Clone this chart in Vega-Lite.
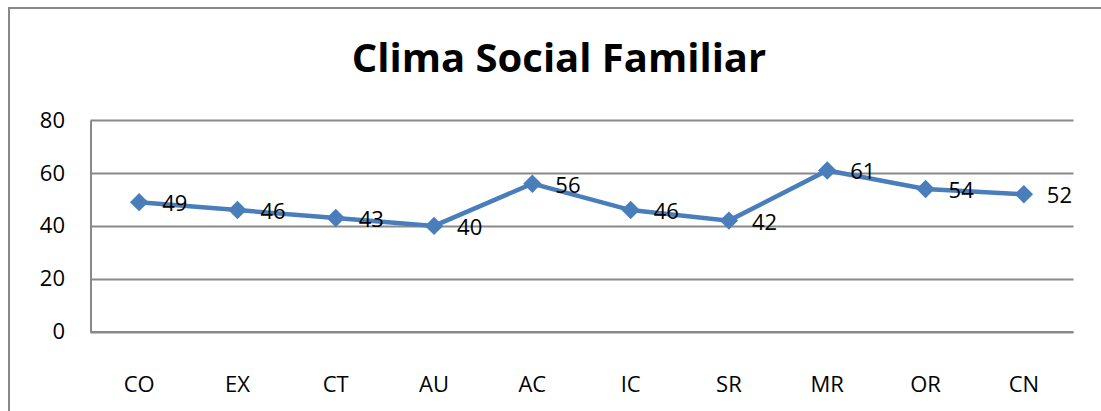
{
  "$schema": "https://vega.github.io/schema/vega-lite/v6.json",
  "autosize": {"type": "none"},
  "padding": {"left": 9, "top": 8, "right": 0, "bottom": 0},
  "width": 1100,
  "height": 410,
  "background": "white",
  "title": {
    "text": "Clima Social Familiar",
    "font": "Open Sans",
    "fontSize": 40,
    "fontWeight": "bold",
    "color": "#000000",
    "anchor": "middle",
    "frame": "group",
    "baseline": "alphabetic",
    "offset": -104
  },
  "data": {
    "values": [
      {"cat": "CO", "value": 49},
      {"cat": "EX", "value": 46},
      {"cat": "CT", "value": 43},
      {"cat": "AU", "value": 40},
      {"cat": "AC", "value": 56},
      {"cat": "IC", "value": 46},
      {"cat": "SR", "value": 42},
      {"cat": "MR", "value": 61},
      {"cat": "OR", "value": 54},
      {"cat": "CN", "value": 52}
    ]
  },
  "encoding": {
    "x": {
      "field": "cat",
      "type": "nominal",
      "sort": null,
      "scale": {"type": "band", "range": [81, 1064], "paddingInner": 0, "paddingOuter": 0},
      "axis": {
        "title": null,
        "orient": "bottom",
        "offset": -86.5,
        "grid": false,
        "ticks": false,
        "tickSize": 0,
        "labelAngle": 0,
        "labelFont": "Open Sans",
        "labelFontSize": 22,
        "labelColor": "#000000",
        "labelBaseline": "middle",
        "labelPadding": 53,
        "domainColor": "#898989",
        "domainWidth": 2
      }
    },
    "y": {
      "field": "value",
      "type": "quantitative",
      "scale": {"domain": [0, 80], "range": [323.5, 112.3], "nice": false, "zero": true},
      "axis": {
        "title": null,
        "orient": "left",
        "offset": -81.5,
        "values": [0, 20, 40, 60, 80],
        "grid": true,
        "gridColor": "#898989",
        "gridWidth": 2,
        "ticks": false,
        "tickSize": 0,
        "labelFont": "Open Sans",
        "labelFontSize": 22,
        "labelColor": "#000000",
        "labelPadding": 26,
        "labelAlign": "right",
        "labelBaseline": "middle",
        "domainColor": "#898989",
        "domainWidth": 2
      }
    }
  },
  "layer": [
    {
      "mark": {"type": "line", "color": "#4A7EBB", "strokeWidth": 4.5}
    },
    {
      "mark": {"type": "point", "shape": "diamond", "filled": true, "color": "#4A7EBB", "size": 340, "opacity": 1}
    },
    {
      "mark": {"type": "text", "align": "left", "baseline": "middle", "dx": 23, "dy": 2, "font": "Open Sans", "fontSize": 22, "color": "#000000"},
      "encoding": {"text": {"field": "value", "type": "quantitative"}}
    }
  ],
  "config": {
    "view": {"stroke": "#898989", "strokeWidth": 2, "fill": "white"}
  }
}
